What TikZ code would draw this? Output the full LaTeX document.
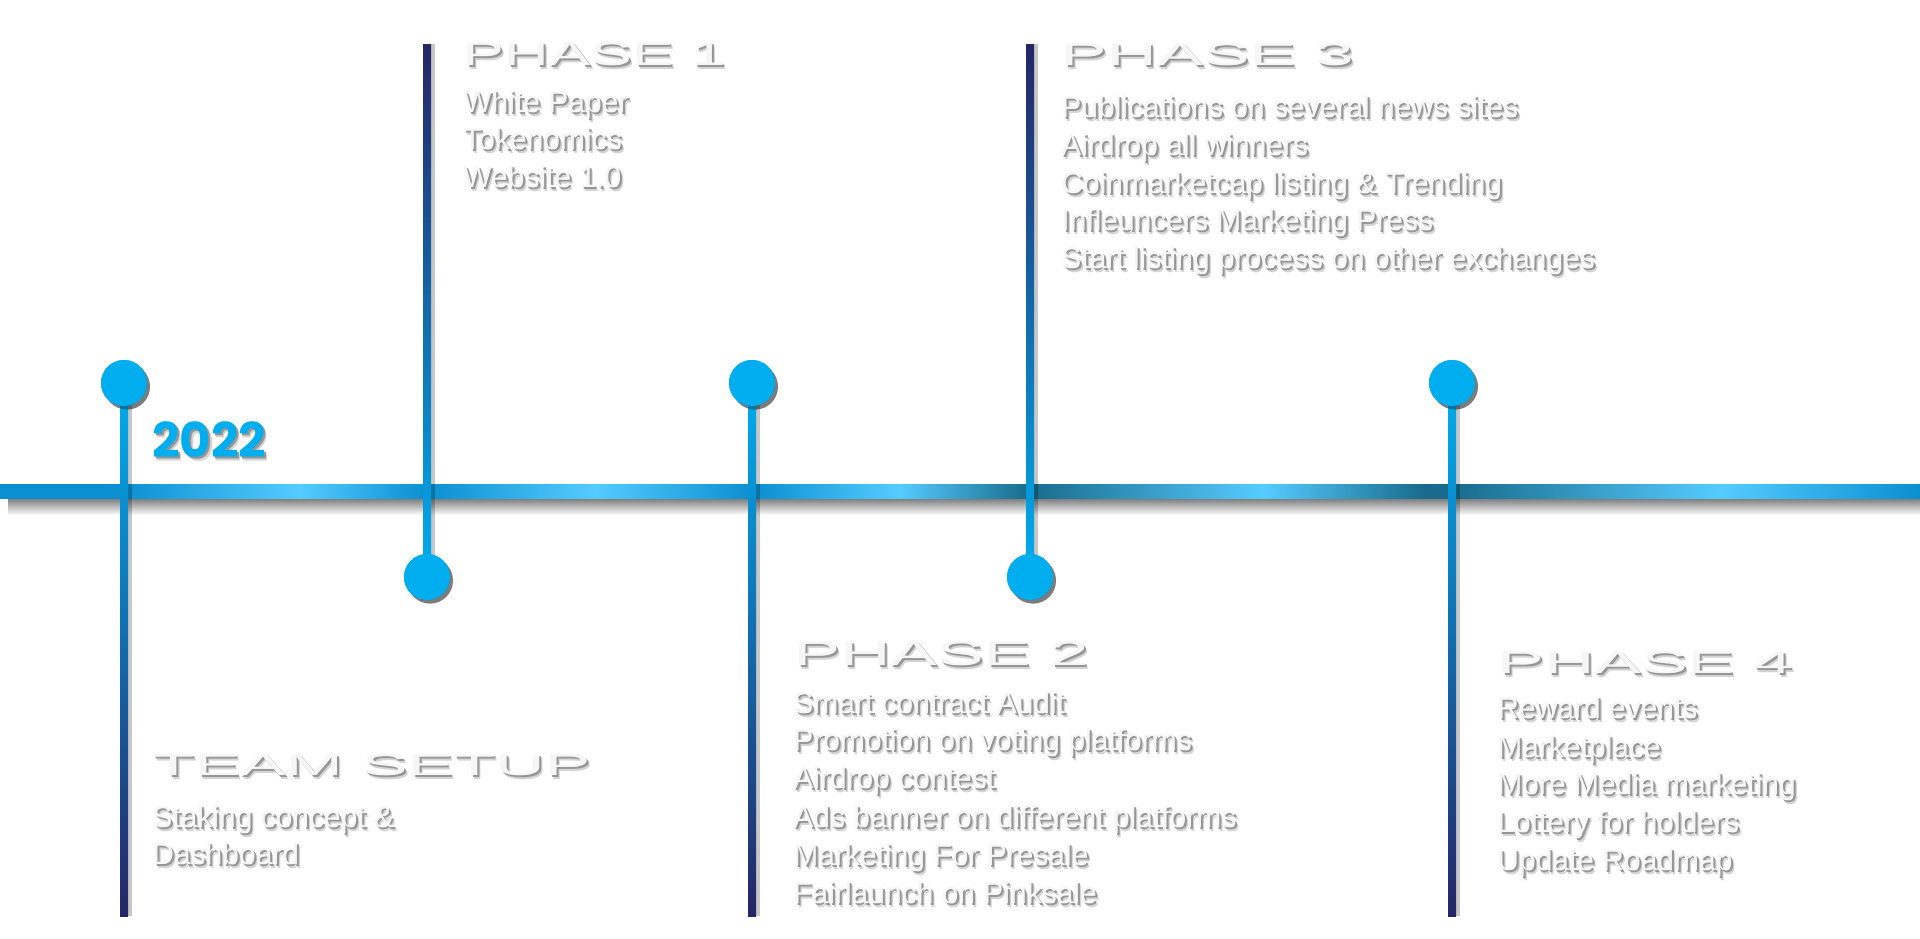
\documentclass[tikz,border=0pt]{standalone}
\usepackage{fontspec}
\setmainfont{Liberation Sans}
\newfontfamily\yearfont{Poppins}
\usepackage{graphicx}
\usepackage{xcolor}

\definecolor{dotblue}{RGB}{0,174,239}
\definecolor{stemmid}{RGB}{14,124,198}
\definecolor{stemnavy}{RGB}{38,37,102}
\definecolor{barblue}{RGB}{10,143,208}
\definecolor{barlight}{RGB}{85,204,255}
\definecolor{barteal}{RGB}{24,107,140}
\definecolor{textwhite}{RGB}{246,246,246}
\definecolor{shadedark}{RGB}{150,150,150}
\definecolor{shadelight}{RGB}{212,212,212}

\pgfdeclarehorizontalshading{barshade}{100bp}{color(0bp)=(barblue); color(25bp)=(barblue);
  color(28.1bp)=(barblue); color(32.8bp)=(barlight); color(36.1bp)=(barblue);
  color(40.5bp)=(barlight); color(44.6bp)=(barblue); color(48.4bp)=(barlight);
  color(51.8bp)=(barteal); color(57.9bp)=(barlight); color(62.1bp)=(barteal);
  color(62.8bp)=(barteal); color(69.8bp)=(barlight); color(75bp)=(barblue);
  color(100bp)=(barblue)}

\newcommand{\shtext}[1]{\leavevmode\rlap{\kern1.6pt\raisebox{-2pt}{\color{shadelight}#1}}%
  \rlap{\kern1pt\raisebox{-1.2pt}{\color{shadedark}#1}}#1}

\begin{document}
\begin{tikzpicture}[x=.5pt,y=-.5pt]
    \tikzstyle{dot} = [circle,inner sep=0pt,minimum size=23pt,fill=dotblue,
      preaction={fill=black,opacity=.3,transform canvas={shift={(1.5pt,-1.8pt)}}}]
    \tikzstyle{head} = [anchor=base west,inner sep=0pt,text=textwhite]
    \tikzstyle{entry} = [anchor=base west,inner sep=0pt,text=textwhite,font=\fontsize{15}{19}\selectfont]
    \tikzstyle{year} = [anchor=base west,inner sep=0pt,text=dotblue,font=\yearfont\bfseries\fontsize{24}{28}\selectfont]
    \tikzstyle{stemup} = [top color=stemnavy,middle color=dotblue,bottom color=dotblue]
    \tikzstyle{stemdown} = [top color=dotblue,middle color=stemmid,bottom color=stemnavy]
    \tikzstyle{stemshadow} = [fill=black,opacity=.22]
    \useasboundingbox (0,0) rectangle (1920,938);
    \fill[white] (0,0) rectangle (1920,938);
    %%
    \shade[top color=black!65,bottom color=white] (8,494) rectangle (1920,515);
    \shade[shading=barshade] (0,484) rectangle (1920,498);
    %%
    \coordinate (endA) at (128,916);
    \coordinate (topB) at (423,44);
    \coordinate (endC) at (756,916);
    \coordinate (topD) at (1026,44);
    \coordinate (endE) at (1456,916);
    \node[dot] (dotA) at (124,383) {};
    \node[dot] (dotB) at (427,577) {};
    \node[dot] (dotC) at (752,383) {};
    \node[dot] (dotD) at (1030,577) {};
    \node[dot] (dotE) at (1452,383) {};
    \fill[stemshadow] (128,386) rectangle (132,916);
    \fill[stemshadow] (431,44) rectangle (435,560);
    \fill[stemshadow] (756,386) rectangle (760,916);
    \fill[stemshadow] (1034,44) rectangle (1038,560);
    \fill[stemshadow] (1456,386) rectangle (1460,916);
    \shade[stemdown] (dotA.center) ++(-4,0) rectangle (endA);
    \shade[stemup] (topB) rectangle ([xshift=2pt]dotB.center);
    \shade[stemdown] (dotC.center) ++(-4,0) rectangle (endC);
    \shade[stemup] (topD) rectangle ([xshift=2pt]dotD.center);
    \shade[stemdown] (dotE.center) ++(-4,0) rectangle (endE);
    \node[dot] at (dotA) {}; \node[dot] at (dotB) {}; \node[dot] at (dotC) {};
    \node[dot] at (dotD) {}; \node[dot] at (dotE) {};
    %%
    \node[year] (year) at (152,457) {\shtext{2022}};
    %%
    \node[head] (teamhead) at (152,775) {\shtext{\resizebox{219pt}{10.5pt}{TEAM SETUP}}};
    \node[entry] (team1) at (152,827) {\shtext{Staking concept \&}};
    \node[entry] (team2) at (152,864) {\shtext{Dashboard}};
    %%
    \node[head] (p1head) at (462,65) {\shtext{\resizebox{131.5pt}{11.5pt}{PHASE 1}}};
    \node[entry] (p1a) at (463,112) {\shtext{White Paper}};
    \node[entry] (p1b) at (463,149) {\shtext{Tokenomics}};
    \node[entry] (p1c) at (463,187) {\shtext{Website 1.0}};
    %%
    \node[head] (p2head) at (793,665) {\shtext{\resizebox{147.5pt}{12pt}{PHASE 2}}};
    \node[entry] (p2a) at (793,713) {\shtext{Smart contract Audit}};
    \node[entry] (p2b) at (793,750) {\shtext{Promotion on voting platforms}};
    \node[entry] (p2c) at (793,788) {\shtext{Airdrop contest}};
    \node[entry] (p2d) at (793,827) {\shtext{Ads banner on different platforms}};
    \node[entry] (p2e) at (793,865) {\shtext{Marketing For Presale}};
    \node[entry] (p2f) at (793,903) {\shtext{Fairlaunch on Pinksale}};
    %%
    \node[head] (p3head) at (1060,65) {\shtext{\resizebox{146.5pt}{11pt}{PHASE 3}}};
    \node[entry] (p3a) at (1061,117) {\shtext{Publications on several news sites}};
    \node[entry] (p3b) at (1061,155) {\shtext{Airdrop all winners}};
    \node[entry] (p3c) at (1061,193) {\shtext{Coinmarketcap listing \& Trending}};
    \node[entry] (p3d) at (1061,230) {\shtext{Infleuncers Marketing Press}};
    \node[entry] (p3e) at (1061,268) {\shtext{Start listing process on other exchanges}};
    %%
    \node[head] (p4head) at (1497,673) {\shtext{\resizebox{147.5pt}{11pt}{PHASE 4}}};
    \node[entry] (p4a) at (1497,718) {\shtext{Reward events}};
    \node[entry] (p4b) at (1497,757) {\shtext{Marketplace}};
    \node[entry] (p4c) at (1497,794) {\shtext{More Media marketing}};
    \node[entry] (p4d) at (1497,832) {\shtext{Lottery for holders}};
    \node[entry] (p4e) at (1497,870) {\shtext{Update Roadmap}};
\end{tikzpicture}
\end{document}
